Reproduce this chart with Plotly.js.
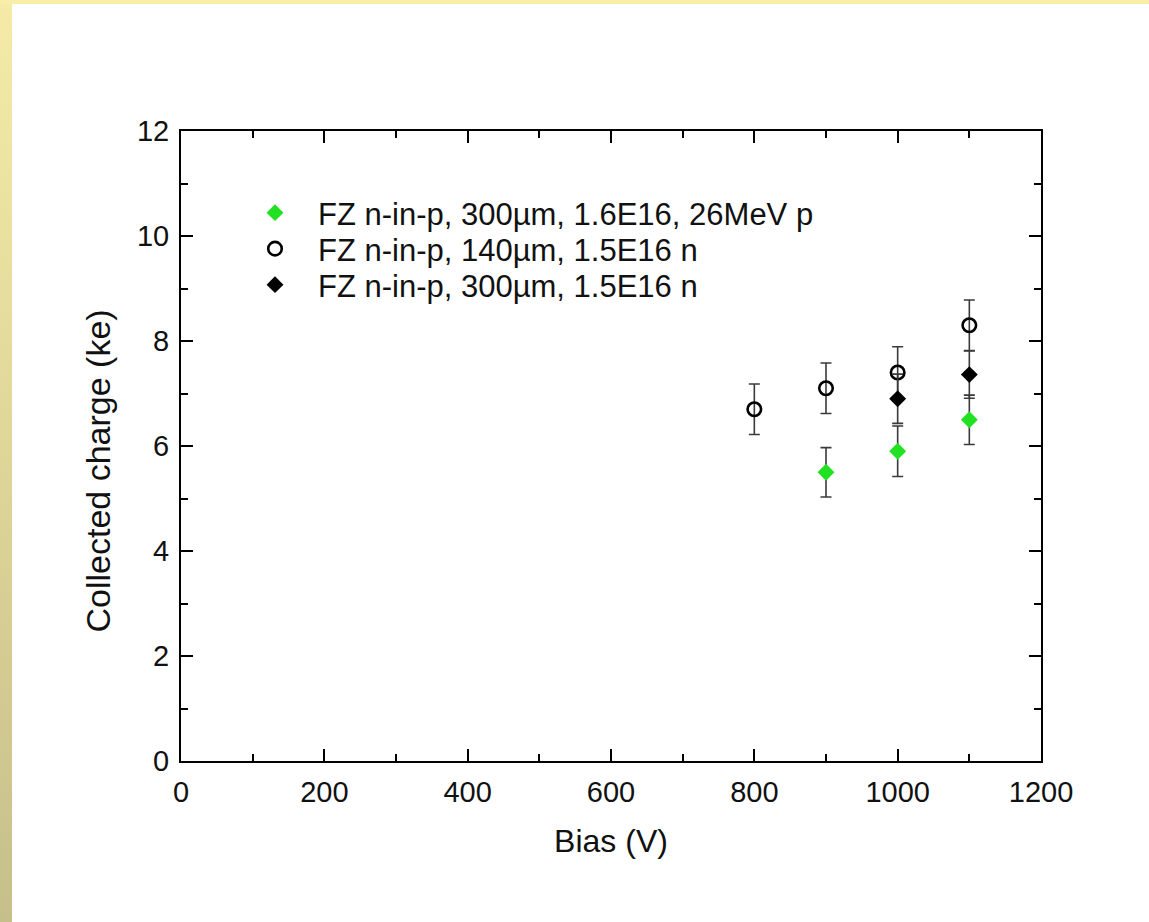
<!DOCTYPE html>
<html>
<head>
<meta charset="utf-8">
<script src="https://cdn.plot.ly/plotly-3.0.1.min.js"></script>
<style>
  html, body { margin: 0; padding: 0; }
  #chart {
    width: 1149px; height: 922px;
    background:
      linear-gradient(#F8EEAA, #F8EEAA) top left / 100% 4px no-repeat,
      linear-gradient(to bottom, #F5EBA7, #C7BF8B) top left / 12px 100% no-repeat,
      #FFFFFF;
  }
</style>
</head>
<body>
<div id="chart"></div>
<script>
// Data
var seriesNames = [
  "FZ n-in-p, 300µm, 1.6E16, 26MeV p",
  "FZ n-in-p, 140µm, 1.5E16 n",
  "FZ n-in-p, 300µm, 1.5E16 n"
];
var biasP300 = [900, 1000, 1100];
var chargeP300 = [5.5, 5.9, 6.5];
var errP300 = [0.47, 0.48, 0.47];

var biasN140 = [800, 900, 1000, 1100];
var chargeN140 = [6.7, 7.1, 7.4, 8.3];
var errN140 = [0.48, 0.48, 0.49, 0.48];

var biasN300 = [1000, 1100];
var chargeN300 = [6.9, 7.36];
var errN300 = [0.47, 0.45];

var xTitle = "Bias (V)";
var yTitle = "Collected charge (ke)";

var FONT = "Liberation Sans, Arial, sans-serif";
var errStyle = function (arr) {
  return { type: "data", array: arr, visible: true, color: "#3a3a3a", thickness: 1.6, width: 5.5 };
};

var traces = [
  {
    x: biasP300, y: chargeP300, name: seriesNames[0], type: "scatter", mode: "markers",
    legend: "legend",
    marker: { symbol: "diamond", size: 13, color: "#22E022", line: { width: 0 } },
    error_y: errStyle(errP300)
  },
  {
    x: biasN140, y: chargeN140, name: seriesNames[1], type: "scatter", mode: "markers",
    legend: "legend2",
    marker: { symbol: "circle-open", size: 13.5, color: "#000000", line: { width: 2.6, color: "#000000" } },
    error_y: errStyle(errN140)
  },
  {
    x: biasN300, y: chargeN300, name: seriesNames[2], type: "scatter", mode: "markers",
    legend: "legend3",
    marker: { symbol: "diamond", size: 13, color: "#000000", line: { width: 0 } },
    error_y: errStyle(errN300)
  }
];

var W = 1149, H = 922;
var L = 181, R = 108, T = 131, B = 161;
var pw = W - L - R, ph = H - T - B;

var axisCommon = {
  showline: true, linecolor: "#000000", linewidth: 2, mirror: "allticks",
  ticks: "inside", ticklen: 12, tickwidth: 2, tickcolor: "#000000",
  showgrid: false, zeroline: false,
  tickfont: { family: FONT, size: 29, color: "#111111" },
  minor: { ticks: "inside", ticklen: 7, tickwidth: 2, tickcolor: "#000000", showgrid: false }
};

function legendAt(rowCenterPx) {
  return {
    x: (232 - L) / pw, xanchor: "left",
    y: (H - B - rowCenterPx) / ph, yanchor: "middle",
    bgcolor: "rgba(0,0,0,0)", borderwidth: 0,
    font: { family: FONT, size: 31, color: "#111111" },
    itemwidth: 76
  };
}

var layout = {
  width: W, height: H,
  margin: { l: L, r: R, t: T, b: B },
  paper_bgcolor: "rgba(0,0,0,0)",
  plot_bgcolor: "rgba(0,0,0,0)",
  font: { family: FONT, color: "#111111" },
  showlegend: true,
  legend: legendAt(213),
  legend2: legendAt(249),
  legend3: legendAt(285),
  xaxis: Object.assign({}, axisCommon, {
    range: [0, 1200], tickmode: "linear", tick0: 0, dtick: 200,
    minor: Object.assign({}, axisCommon.minor, { dtick: 100 }),
    title: { text: xTitle, font: { family: FONT, size: 32, color: "#111111" }, standoff: 23 },
    ticklabelstandoff: 4
  }),
  yaxis: Object.assign({}, axisCommon, {
    range: [0, 12], tickmode: "linear", tick0: 0, dtick: 2,
    minor: Object.assign({}, axisCommon.minor, { dtick: 1 }),
    title: { text: "" },
    ticklabelstandoff: 4
  }),
  annotations: [{
    text: yTitle, textangle: -90, showarrow: false,
    xref: "paper", yref: "paper",
    x: (97.5 - L) / pw, y: (H - B - 471) / ph,
    xanchor: "center", yanchor: "middle",
    font: { family: FONT, size: 34, color: "#111111" }
  }]
};

Plotly.newPlot("chart", traces, layout, { displayModeBar: false, staticPlot: true });
</script>
</body>
</html>
